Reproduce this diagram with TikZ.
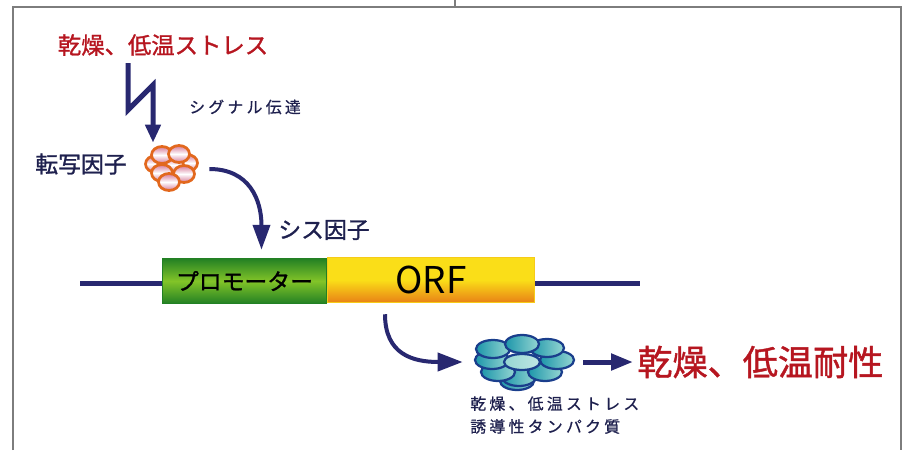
\documentclass[tikz,border=0pt]{standalone}
\usepackage{fontspec}
\setmainfont{Noto Sans CJK JP}
\newfontfamily\jpmed[FakeBold=1.2]{Noto Sans CJK JP}
\newfontfamily\jpwide[LetterSpace=21,FakeBold=0.8]{Noto Sans CJK JP}
\usetikzlibrary{arrows.meta}
\definecolor{Navy}{RGB}{40,40,112}
\definecolor{NavyText}{RGB}{30,32,78}
\definecolor{StressRed}{RGB}{182,22,32}
\definecolor{FrameGray}{RGB}{125,125,125}
\definecolor{PromDark}{RGB}{34,128,36}
\definecolor{PromLight}{RGB}{130,196,40}
\definecolor{OrfTop}{RGB}{250,222,24}
\definecolor{OrfBottom}{RGB}{232,128,22}
\definecolor{TfEdge}{RGB}{226,104,30}
\definecolor{TfPink}{RGB}{214,120,150}
\definecolor{ProtEdge}{RGB}{26,62,140}
\definecolor{ProtTeal}{RGB}{28,150,170}
\definecolor{ProtLight}{RGB}{150,214,210}

\begin{document}
\begin{tikzpicture}[x=0.02cm,y=-0.02cm,
  sig/.style={Navy,line width=0.1cm},
  curv/.style={Navy,line width=0.08cm},
  gene/.style={minimum height=0.91cm,inner sep=0pt,draw,line width=0.02cm},
  lbl/.style={NavyText,font=\jpmed\fontsize{13}{16}\selectfont},
  small/.style={NavyText,font=\jpwide\fontsize{9}{13}\selectfont},
  petal/.style={TfEdge,line width=0.055cm,top color=TfPink,bottom color=TfPink,middle color=white},
  disc/.style={ProtEdge,line width=0.045cm,left color=ProtTeal,right color=ProtLight}]
\useasboundingbox (0,0) rectangle (909,450);

% page frame
\draw[FrameGray,line width=0.03cm] (13,450) -- (13,7) -- (901,7) -- (901,450);
\draw[FrameGray,line width=0.03cm] (455,0) -- (455,7);

% stress signal
\node[StressRed,font=\jpmed\fontsize{13.3}{16}\selectfont] (stress) at (163,45) {乾燥、低温ストレス};
\node[small] (signal) at (245,107) {シグナル伝達};
\coordinate (zig) at (128,63);

% transcription factor cluster
\node[minimum width=1.12cm,minimum height=0.96cm,inner sep=0pt] (tf) at (170,169) {};
\foreach \dx/\dy in {-14/-5,17/-6,3/-4,-8/-14,9/-15,-8/4,14/5,-1/13}
  \draw[petal] (tf) ++(\dx,\dy) ellipse [x radius=10.5,y radius=8.5];
\node[lbl] (tfname) at (81,164) {転写因子};

\draw[sig,-{Triangle[length=0.36cm,width=0.3cm]}] (zig) -- ++(0,47) -- ++(25,-25)
  -- ([shift={(-17,-2)}]tf.north);

% gene on the DNA strand
\coordinate (dnaL) at (80,283);
\coordinate (dnaR) at (640,283);
\node[gene,PromDark,minimum width=3.3cm,top color=PromDark,bottom color=PromDark,middle color=PromLight,
  text=black,font=\jpmed\fontsize{13}{16}\selectfont] (prom) at (244.5,281) {プロモーター};
\node[gene,OrfTop!80!OrfBottom,minimum width=4.16cm,top color=OrfTop,bottom color=OrfBottom,middle color=OrfTop,
  text=black,font=\fontsize{21}{24}\selectfont] (orf) at (431,280) {ORF};
\draw[sig] (dnaL) -- (prom.west |- dnaL);
\draw[sig] (orf.east |- dnaR) -- (dnaR);

\node[lbl] (cis) at (324,230) {シス因子};
\draw[curv,-{Triangle[length=0.5cm,width=0.34cm]}] ([shift={(11,0)}]tf.east)
  .. controls +(40,0) and +(0,-50) .. ([shift={(17,-8)}]prom.north);

% induced protein
\node[minimum width=2cm,minimum height=1.14cm,inner sep=0pt] (prot) at (525,362) {};
\foreach \dx/\dy in {-8/19,-6/15,-27/10,20/10,-33/-2,32/-2,-32/-13,22/-14,-3/-18}
  \draw[disc] (prot) ++(\dx,\dy) ellipse [x radius=17,y radius=9];
\draw[ProtEdge,line width=0.045cm,left color=ProtLight,right color=ProtLight!60!white] (prot) ++(-3,0) ellipse [x radius=18,y radius=8];

\draw[curv,-{Triangle[length=0.5cm,width=0.36cm]}] ([shift={(-46,11)}]orf.south)
  .. controls +(0,40) and +(-50,0) .. ([shift={(-12,0)}]prot.west);

\node[small,align=left,anchor=north west,inner sep=0pt] (protname) at (470,396)
  {乾燥、低温ストレス\\誘導性タンパク質};

\node[StressRed,font=\jpmed\fontsize{20}{24}\selectfont,anchor=west,inner sep=0pt] (tol) at (637,362) {乾燥、低温耐性};
\draw[sig,-{Triangle[length=0.44cm,width=0.32cm]}] ([shift={(8,0)}]prot.east) -- ([shift={(-4,0)}]tol.west);
\end{tikzpicture}
\end{document}
